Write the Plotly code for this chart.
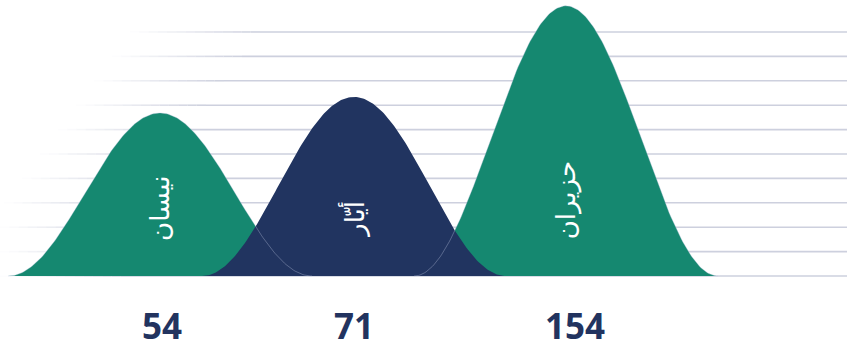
import numpy as np
import plotly.graph_objects as go

# ---- data ----
months = ["نيسان", "أيّار", "حزيران"]
values = [54, 71, 154]
peak_heights = [66.8, 73.4, 110.7]   # curve peak heights (grid units)
grid_values = [0, 10, 20, 30, 40, 50, 60, 70, 80, 90, 100]

# ---- layout / style ----
W, H = 847, 349
centers = [160, 354, 566]
number_x = [162, 354, 575]
half_width = 152
label_y = [27.5, 23.0, 31.0]
number_y = -20.3
colors = ["#158870", "#213460", "#158870"]
y_range = [-29.9, 113.1]
grid_color = (205, 208, 222)

fig = go.Figure()

# faded horizontal grid lines
shapes = []
for v in grid_values:
    xa = max(0.0, 1.8 * v - 50)
    xb = xa + 130
    n = 14
    for k in range(n):
        x0 = xa + (xb - xa) * k / n
        x1 = xa + (xb - xa) * (k + 1) / n
        a = (k + 0.5) / n
        shapes.append(dict(type="line", xref="x", yref="y", x0=x0, x1=x1, y0=v, y1=v,
                           line=dict(color=f"rgba({grid_color[0]},{grid_color[1]},{grid_color[2]},{a:.3f})", width=1.6),
                           layer="below"))
    shapes.append(dict(type="line", xref="x", yref="y", x0=xb, x1=W, y0=v, y1=v,
                       line=dict(color=f"rgb({grid_color[0]},{grid_color[1]},{grid_color[2]})", width=1.6),
                       layer="below"))


def bell(c, h):
    xs = np.linspace(c - half_width, c + half_width, 200)
    ys = h * (1 + np.cos(np.pi * (xs - c) / half_width)) / 2
    return xs, ys

order = [0, 2, 1]  # navy drawn on top
for i in order:
    xs, ys = bell(centers[i], peak_heights[i])
    fig.add_trace(go.Scatter(x=xs, y=ys, mode="lines", fill="tozeroy",
                             fillcolor=colors[i], line=dict(color=colors[i], width=0),
                             hoverinfo="skip", showlegend=False))

# faint outlines of green curves showing through navy
for i in [0, 2]:
    xs, ys = bell(centers[i], peak_heights[i])
    fig.add_trace(go.Scatter(x=xs, y=ys, mode="lines",
                             line=dict(color="rgba(190,200,225,0.45)", width=0.8),
                             hoverinfo="skip", showlegend=False))

annotations = []
for i, m in enumerate(months):
    annotations.append(dict(x=centers[i], y=label_y[i], xref="x", yref="y", text=m,
                            textangle=-90, showarrow=False,
                            font=dict(family="DejaVu Sans", size=26, color="white")))
    annotations.append(dict(x=number_x[i], y=number_y, xref="x", yref="y", text=f"<b>{values[i]}</b>",
                            showarrow=False, borderpad=0,
                            font=dict(family="Open Sans", size=35, color="#22335F")))

fig.update_layout(
    width=W, height=H,
    margin=dict(l=0, r=0, t=0, b=0),
    paper_bgcolor="white", plot_bgcolor="white",
    xaxis=dict(range=[0, W], visible=False, fixedrange=True),
    yaxis=dict(range=y_range, visible=False, fixedrange=True),
    shapes=shapes, annotations=annotations,
    showlegend=False,
)

fig.write_html("out.html")
